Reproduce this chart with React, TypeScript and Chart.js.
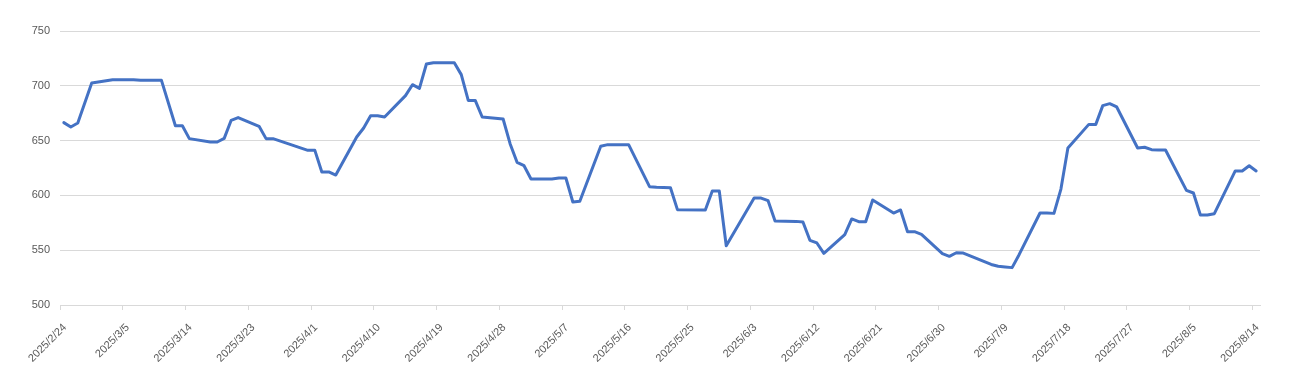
import React, { useEffect, useRef } from "react";
import { Chart, registerables } from "chart.js";

Chart.register(...registerables);

const START = new Date(2025, 1, 24);

const dates: string[] = [
  "2025/2/24", "2025/2/25", "2025/2/26", "2025/2/28", "2025/3/3", "2025/3/6", "2025/3/7", "2025/3/10",
  "2025/3/12", "2025/3/13", "2025/3/14", "2025/3/17", "2025/3/18", "2025/3/19", "2025/3/20", "2025/3/21",
  "2025/3/24", "2025/3/25", "2025/3/26", "2025/3/31", "2025/4/1", "2025/4/2", "2025/4/3", "2025/4/4",
  "2025/4/7", "2025/4/8", "2025/4/9", "2025/4/10", "2025/4/11", "2025/4/14", "2025/4/15", "2025/4/16",
  "2025/4/17", "2025/4/18", "2025/4/21", "2025/4/22", "2025/4/23", "2025/4/24", "2025/4/25", "2025/4/28",
  "2025/4/29", "2025/4/30", "2025/5/1", "2025/5/2", "2025/5/5", "2025/5/6", "2025/5/7", "2025/5/8",
  "2025/5/9", "2025/5/12", "2025/5/13", "2025/5/16", "2025/5/19", "2025/5/20", "2025/5/22", "2025/5/23",
  "2025/5/27", "2025/5/28", "2025/5/29", "2025/5/30", "2025/6/3", "2025/6/4", "2025/6/5", "2025/6/6",
  "2025/6/9", "2025/6/10", "2025/6/11", "2025/6/12", "2025/6/13", "2025/6/16", "2025/6/17", "2025/6/18",
  "2025/6/19", "2025/6/20", "2025/6/23", "2025/6/24", "2025/6/25", "2025/6/26", "2025/6/27", "2025/6/30",
  "2025/7/1", "2025/7/2", "2025/7/3", "2025/7/7", "2025/7/8", "2025/7/9", "2025/7/10", "2025/7/11",
  "2025/7/14", "2025/7/15", "2025/7/16", "2025/7/17", "2025/7/18", "2025/7/21", "2025/7/22", "2025/7/23",
  "2025/7/24", "2025/7/25", "2025/7/28", "2025/7/29", "2025/7/30", "2025/7/31", "2025/8/1", "2025/8/4",
  "2025/8/5", "2025/8/6", "2025/8/7", "2025/8/8", "2025/8/11", "2025/8/12", "2025/8/13", "2025/8/14",
];

const prices: number[] = [
  666.4, 662.4, 666, 702.6, 705.6, 705.6, 705, 705,
  663.6, 663.6, 651.8, 648.7, 648.7, 652, 668.5, 671,
  663, 651.8, 651.8, 641.1, 641.1, 621.4, 621.4, 618.6,
  653.3, 661.5, 672.7, 672.7, 671.5, 691, 701, 697.7,
  719.9, 721.1, 721.1, 710.2, 686.7, 686.7, 671.5, 669.7,
  647.2, 630.2, 627.1, 615, 615, 615.9, 615.9, 594,
  594.6, 644.8, 646.3, 646.3, 608, 607.4, 607, 587,
  586.7, 604, 604, 554.1, 597.6, 597.6, 595.2, 576.6,
  576.3, 575.7, 559, 556.6, 547.1, 564.2, 578.5, 576,
  576, 595.8, 583.9, 586.7, 566.9, 566.9, 564.5, 546.8,
  544.4, 547.7, 547.4, 537, 535.3, 534.7, 534.1, 545.9,
  583.9, 583.9, 583.6, 605.8, 643.2, 664.8, 664.8, 681.9,
  683.7, 680.7, 643.2, 643.9, 641.7, 641.4, 641.4, 604.6,
  602.2, 582.1, 582.1, 583.3, 622.3, 622.3, 627.1, 622.3,
];

const xTickLabels: string[] = [
  "2025/2/24", "2025/3/5", "2025/3/14", "2025/3/23", "2025/4/1", "2025/4/10", "2025/4/19",
  "2025/4/28", "2025/5/7", "2025/5/16", "2025/5/25", "2025/6/3", "2025/6/12", "2025/6/21",
  "2025/6/30", "2025/7/9", "2025/7/18", "2025/7/27", "2025/8/5", "2025/8/14",
];

const yTicks: number[] = [500, 550, 600, 650, 700, 750];

function dayIndex(s: string): number {
  const [y, m, d] = s.split("/").map(Number);
  const dt = new Date(y, m - 1, d);
  return Math.round((dt.getTime() - START.getTime()) / 86400000);
}

const TEXT = "#595959";
const GRID = "#d9d9d9";
const FONT = { family: "'Liberation Sans', Arial, sans-serif", size: 11 };

export default function App() {
  const ref = useRef<HTMLCanvasElement | null>(null);

  useEffect(() => {
    if (!ref.current) return;
    const tickDays = xTickLabels.map(dayIndex);
    const data = dates.map((d, i) => ({ x: dayIndex(d) + 0.55, y: prices[i] }));
    const chart = new Chart(ref.current, {
      type: "line",
      data: {
        datasets: [
          {
            data,
            borderColor: "#4472C4",
            borderWidth: 3,
            pointRadius: 0,
            tension: 0,
            fill: false,
            borderJoinStyle: "round",
            borderCapStyle: "round",
          },
        ],
      },
      options: {
        animation: false,
        responsive: false,
        layout: { padding: { top: 23, right: 24, left: 0, bottom: 0 } },
        plugins: { legend: { display: false }, tooltip: { enabled: false } },
        scales: {
          x: {
            type: "linear",
            min: 0,
            max: 172.1,
            afterBuildTicks: (axis: any) => {
              axis.ticks = tickDays.map((v) => ({ value: v }));
            },
            afterFit: (scale: any) => {
              scale.height = 67;
            },
            ticks: {
              autoSkip: false,
              maxRotation: 45,
              minRotation: 45,
              color: TEXT,
              font: FONT,
              padding: 11,
              labelOffset: 5,
              callback: (value: any) => {
                const idx = tickDays.indexOf(Math.round(Number(value)));
                return idx >= 0 ? xTickLabels[idx] : "";
              },
            },
            grid: {
              drawOnChartArea: false,
              drawTicks: true,
              tickLength: 5,
              color: GRID,
            },
            border: { display: true, color: GRID },
          },
          y: {
            min: 500,
            max: 750,
            afterBuildTicks: (axis: any) => {
              axis.ticks = yTicks.map((v) => ({ value: v }));
            },
            afterFit: (scale: any) => {
              scale.width = 52;
            },
            ticks: { color: TEXT, font: FONT, padding: 10 },
            grid: { color: GRID, drawTicks: false },
            border: { display: false },
          },
        },
      },
    } as any);
    return () => chart.destroy();
  }, []);

  return <canvas ref={ref} width={1276} height={364} style={{ display: "block" }} />;
}
